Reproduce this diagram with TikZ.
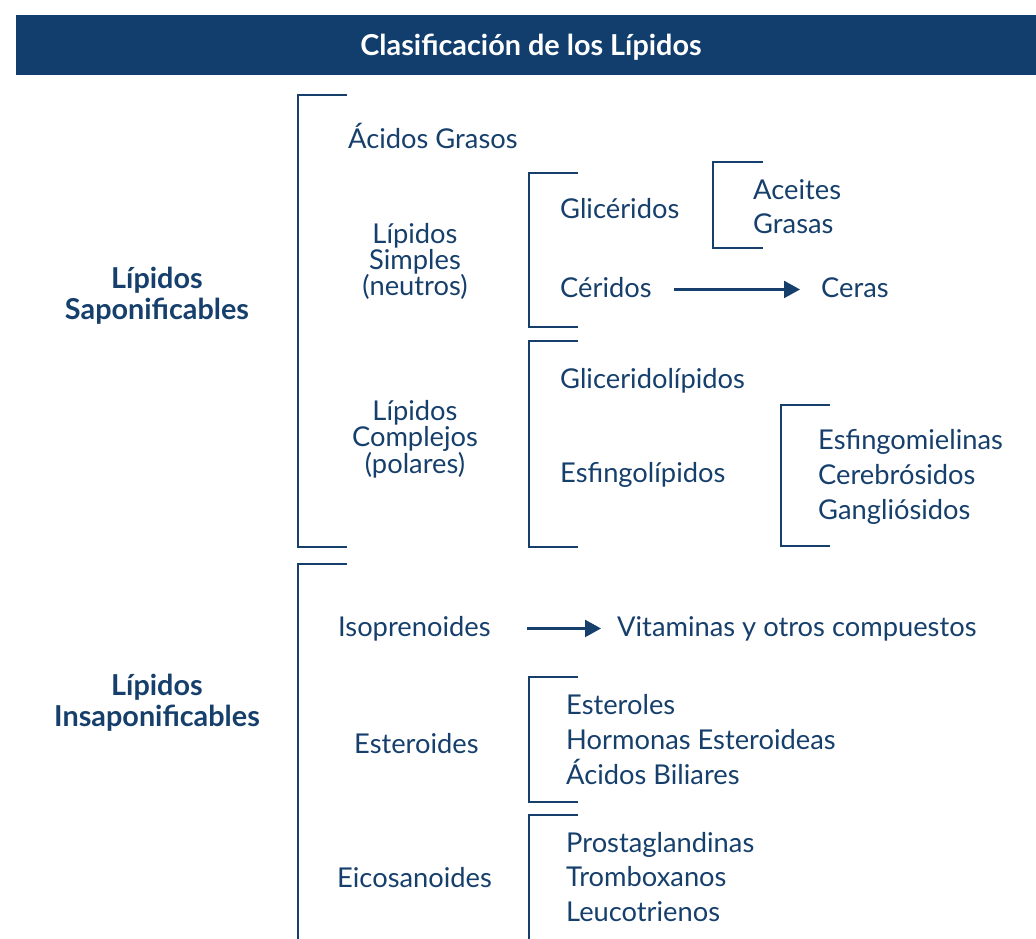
\documentclass[tikz,border=0pt]{standalone}
\usepackage{fontspec}
\setmainfont{Lato}
\usetikzlibrary{arrows.meta}
\definecolor{navy}{RGB}{22,63,108}
\definecolor{bar}{RGB}{18,62,110}
\begin{document}
\begin{tikzpicture}[x=1pt,y=-1pt,
  txt/.style={inner sep=0pt, text=navy, font=\fontsize{27.3}{26}\selectfont},
  lft/.style={txt, anchor=base west},
  stack/.style={txt, align=center},
  head/.style={inner sep=0pt, text=navy, align=center, font=\bfseries\fontsize{28.8}{31}\selectfont},
  brk/.style={draw=navy, line width=2.6pt},
  arr/.style={draw=navy, line width=2.4pt, -{Triangle[length=16pt,width=17pt]}}]
\useasboundingbox (0,0) rectangle (1036,939);
\fill[bar] (16,15) rectangle (1036,75);
\node[inner sep=0pt, text=white, font=\bfseries\fontsize{28.8}{30}\selectfont] (title) at (531,47) {Clasificación de los Lípidos};

% brackets
\draw[brk] (347,95) -- (298,95) -- (298,547) -- (347,547);
\draw[brk] (347,564) -- (298,564) -- (298,940.5) -- (347,940.5);
\draw[brk] (578,173) -- (529,173) -- (529,327) -- (578,327);
\draw[brk] (763,162) -- (713,162) -- (713,248) -- (763,248);
\draw[brk] (578,341) -- (529,341) -- (529,547) -- (578,547);
\draw[brk] (830,405) -- (781,405) -- (781,546) -- (830,546);
\draw[brk] (578,677) -- (529,677) -- (529,802) -- (578,802);
\draw[brk] (578,815) -- (529,815) -- (529,940.5) -- (578,940.5);

% level 0
\node[head] (sap) at (157,296) {Lípidos\\Saponificables};
\node[head] (insap) at (157,703) {Lípidos\\Insaponificables};

% saponificables
\node[lft] (acidos) at (348,149) {Ácidos Grasos};
\node[stack] (simples) at (415,261) {Lípidos\\Simples\\(neutros)};
\node[lft] (gliceridos) at (560,218) {Glicéridos};
\node[lft] (aceites) at (753,199) {Aceites};
\node[lft] (grasas) at (753,233) {Grasas};
\node[lft] (ceridos) at (560,297) {Céridos};
\node[lft] (ceras) at (821,297) {Ceras};
\draw[arr] ([xshift=22pt,yshift=5pt]ceridos.mid east) -- ([xshift=-21pt,yshift=5pt]ceras.mid west);
\node[lft] (glicerido) at (560,388) {Gliceridolípidos};
\node[stack] (complejos) at (415,439) {Lípidos\\Complejos\\(polares)};
\node[lft] (esfingo) at (560,482) {Esfingolípidos};
\node[lft] (esfm) at (818,449) {Esfingomielinas};
\node[lft] (cereb) at (818,484) {Cerebrósidos};
\node[lft] (gangl) at (818,519) {Gangliósidos};

% insaponificables
\node[lft] (isopr) at (338,636) {Isoprenoides};
\node[lft] (vitam) at (617,636) {Vitaminas y otros compuestos};
\draw[arr] ([xshift=36pt,yshift=5pt]isopr.mid east) -- ([xshift=-16pt,yshift=5pt]vitam.mid west);
\node[lft] (esteroides) at (354,753) {Esteroides};
\node[lft] (ester) at (566,714) {Esteroles};
\node[lft] (hormo) at (566,749) {Hormonas Esteroideas};
\node[lft] (acbil) at (566,784) {Ácidos Biliares};
\node[lft] (eico) at (337,887) {Eicosanoides};
\node[lft] (prost) at (566,852) {Prostaglandinas};
\node[lft] (tromb) at (566,886) {Tromboxanos};
\node[lft] (leuco) at (566,921) {Leucotrienos};
\end{tikzpicture}
\end{document}
